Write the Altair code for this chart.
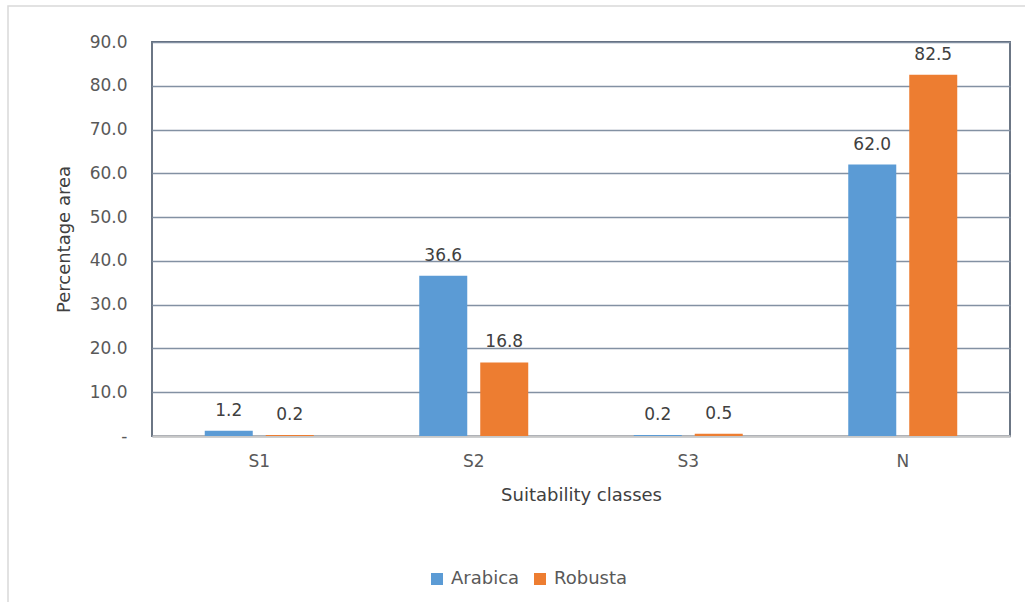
import altair as alt
import pandas as pd

classes = ["S1", "S2", "S3", "N"]
species = ["Arabica", "Robusta"]
arabica = [1.2, 36.6, 0.2, 62.0]
robusta = [0.2, 16.8, 0.5, 82.5]
colors = ["#5B9BD5", "#ED7D31"]
y_ticks = [0, 10, 20, 30, 40, 50, 60, 70, 80, 90]

rows = []
for i, c in enumerate(classes):
    rows.append({"cls": c, "species": "Arabica", "value": arabica[i]})
    rows.append({"cls": c, "species": "Robusta", "value": robusta[i]})
df = pd.DataFrame(rows)

FONT = "DejaVu Sans"

x_enc = alt.X(
    "cls:N",
    sort=classes,
    title="Suitability classes",
    scale=alt.Scale(paddingInner=0, paddingOuter=0),
    axis=alt.Axis(
        labelAngle=0, ticks=False, tickSize=0, domainColor="#C8C8C8", domainWidth=2.5,
        labelPadding=17, titlePadding=17, labelFontSize=17, titleFontSize=18,
        labelColor="#595959", titleColor="#404040", labelFont=FONT, titleFont=FONT,
        titleFontWeight="normal", grid=False,
    ),
)
xoff = alt.XOffset("species:N", sort=species,
                   scale=alt.Scale(paddingInner=0.213, paddingOuter=0.865))
y_enc = alt.Y(
    "value:Q",
    title="Percentage area",
    scale=alt.Scale(domain=[0, 90], nice=False),
    axis=alt.Axis(
        values=y_ticks, ticks=False, tickSize=0, domain=False,
        labelExpr="datum.value == 0 ? '-\u00a0\u00a0' : format(datum.value, '.1f')",
        labelPadding=25, titlePadding=16, labelFontSize=17, titleFontSize=18,
        labelColor="#595959", titleColor="#404040", labelFont=FONT, titleFont=FONT,
        titleFontWeight="normal", gridColor="#8391a3", gridWidth=1.6,
    ),
)

bars = alt.Chart(df).mark_bar().encode(
    x=x_enc,
    xOffset=xoff,
    y=y_enc,
    color=alt.Color(
        "species:N",
        sort=species,
        scale=alt.Scale(domain=species, range=colors),
        legend=alt.Legend(
            title=None, orient="none", legendX=276, legendY=528, direction="horizontal",
            symbolType="square", symbolSize=144, symbolStrokeWidth=0,
            labelFontSize=18, labelColor="#595959", labelFont=FONT,
            columnPadding=11, labelOffset=5, padding=0,
        ),
    ),
)

labels = alt.Chart(df).mark_text(
    dy=-15, fontSize=17, font=FONT, color="#404040", baseline="alphabetic"
).encode(
    x=alt.X("cls:N", sort=classes),
    xOffset=alt.XOffset("species:N", sort=species),
    y=alt.Y("value:Q"),
    text=alt.Text("value:Q", format=".1f"),
)

frame = alt.Chart(alt.Data(values=[{"a": 1}])).mark_rect(
    fill=None, stroke="#D9D9D9", strokeWidth=1.5
).encode(
    x=alt.value(-144), x2=alt.value(885), y=alt.value(-36), y2=alt.value(575)
)

chart = alt.layer(frame, bars, labels).properties(
    width=858, height=394,
    autosize=alt.AutoSizeParams(type="none"),
    padding={"left": 152, "top": 42, "right": 15, "bottom": 166},
    background="white",
).configure_view(stroke="#5c6878", strokeWidth=1.8)

chart.save("out.html", embed_options={"renderer": "svg", "actions": False})
